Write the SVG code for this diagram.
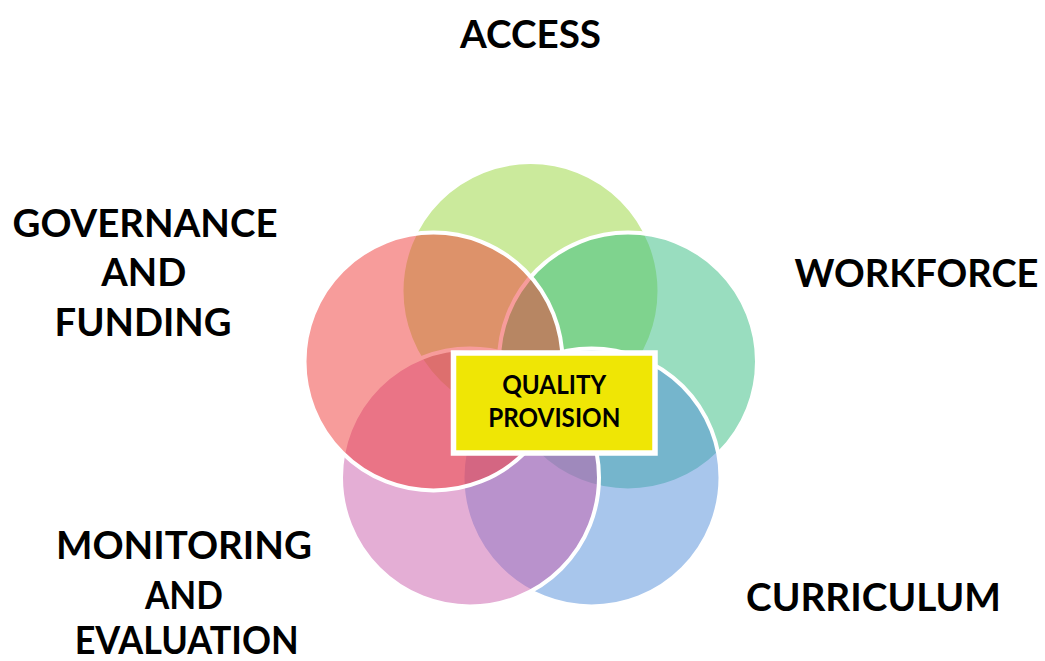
<svg xmlns="http://www.w3.org/2000/svg" width="1045" height="661" viewBox="0 0 1045 661">
  <style>
    .petal { fill-opacity: 0.5; stroke: #ffffff; stroke-width: 4; }
    .label { font-family: Lato, "Open Sans", "Liberation Sans", sans-serif; font-weight: 700; font-size: 39px; fill: #000000; text-anchor: middle; }
    .core-text { font-family: Lato, "Open Sans", "Liberation Sans", sans-serif; font-weight: 700; font-size: 26px; fill: #000000; text-anchor: middle; }
  </style>
  <rect x="0" y="0" width="1045" height="661" fill="#ffffff"/>

  <!-- circles are drawn in clockwise order from the top; later strokes sit over earlier fills -->
  <g id="access">
    <circle class="petal" cx="530.5" cy="291" r="129" fill="#97D539"/>
    <text class="label" x="530.5" y="47.5" textLength="141" lengthAdjust="spacingAndGlyphs">ACCESS</text>
  </g>

  <g id="workforce">
    <circle class="petal" cx="628" cy="361.5" r="129" fill="#33BB7F"/>
    <text class="label" x="916.5" y="286.5" textLength="244" lengthAdjust="spacingAndGlyphs">WORKFORCE</text>
  </g>

  <g id="curriculum">
    <circle class="petal" cx="591.5" cy="477.5" r="129" fill="#518DD9"/>
    <text class="label" x="873.5" y="610.5" textLength="255" lengthAdjust="spacingAndGlyphs">CURRICULUM</text>
  </g>

  <g id="monitoring-evaluation">
    <circle class="petal" cx="470" cy="477.5" r="129" fill="#C95DAB"/>
    <text class="label" x="184" y="558.5" textLength="256" lengthAdjust="spacingAndGlyphs">MONITORING</text>
    <text class="label" x="184" y="609" textLength="78" lengthAdjust="spacingAndGlyphs">AND</text>
    <text class="label" x="186.7" y="653.5" textLength="224" lengthAdjust="spacingAndGlyphs">EVALUATION</text>
  </g>

  <g id="governance-funding">
    <circle class="petal" cx="433.5" cy="361.5" r="129" fill="#EF3937"/>
    <text class="label" x="145" y="237" textLength="265" lengthAdjust="spacingAndGlyphs">GOVERNANCE</text>
    <text class="label" x="143.7" y="286" textLength="85" lengthAdjust="spacingAndGlyphs">AND</text>
    <text class="label" x="143" y="336" textLength="177" lengthAdjust="spacingAndGlyphs">FUNDING</text>
  </g>

  <g id="quality-provision">
    <rect x="453.5" y="353" width="201.5" height="100" fill="#EFE605" stroke="#ffffff" stroke-width="5.5"/>
    <text class="core-text" x="554.2" y="393.5" textLength="104" lengthAdjust="spacingAndGlyphs">QUALITY</text>
    <text class="core-text" x="554.3" y="427" textLength="132" lengthAdjust="spacingAndGlyphs">PROVISION</text>
  </g>
</svg>
